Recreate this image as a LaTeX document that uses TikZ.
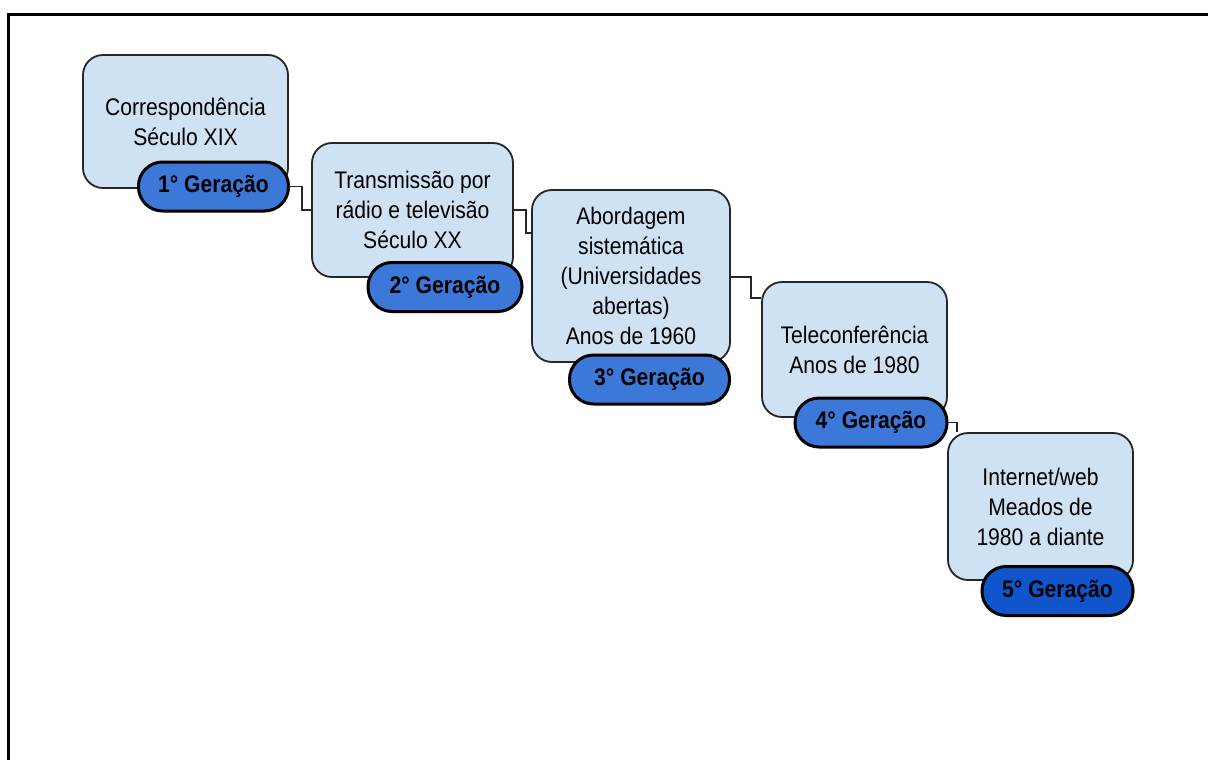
\documentclass[tikz,border=0pt]{standalone}
\usepackage{fontspec}
\setmainfont{Liberation Sans}[FakeStretch=0.88]
\usetikzlibrary{positioning}
\definecolor{eraFill}{RGB}{207,226,243}
\definecolor{genFill}{RGB}{60,120,216}
\definecolor{genDark}{RGB}{17,85,204}

\begin{document}
\begin{tikzpicture}[x=1pt,y=-1pt,
  era/.style={draw=black!85,line width=1.8pt,fill=eraFill,rounded corners=20pt,align=center,inner sep=0pt,font=\fontsize{24}{30}\selectfont},
  gen/.style={draw=black,line width=3pt,fill=genFill,rounded corners=24pt,minimum width=152pt,minimum height=49pt,inner sep=0pt,font=\fontsize{24}{28}\selectfont\bfseries},
  link/.style={draw=black!85,line width=1.8pt}]
  \useasboundingbox (0,0) rectangle (1208,760);

  % frame
  \draw[line width=3pt] (8.5,760) -- (8.5,15) -- (1208,15);

  \node[era,minimum width=205pt,minimum height=133pt] (b1) at (185.5,121.5) {Correspondência\\Século XIX};
  \node[era,minimum width=201pt,minimum height=134pt] (b2) at (412.5,210) {Transmissão por\\rádio e televisão\\Século XX};
  \node[era,minimum width=198pt,minimum height=172pt] (b3) at (631,276) {Abordagem\\sistemática\\(Universidades\\abertas)\\Anos de 1960};
  \node[era,minimum width=185pt,minimum height=135pt] (b4) at (854.5,349.5) {Teleconferência\\Anos de 1980};
  \node[era,minimum width=185pt,minimum height=147pt] (b5) at (1040.5,506.5) {Internet/web\\Meados de\\1980 a diante};

  \node[gen,minimum width=150pt] (p1) at (213.5,186.5) {1° Geração};
  \node[gen,minimum width=154pt] (p2) at (445,287) {2° Geração};
  \node[gen,minimum width=160pt] (p3) at (649.5,379.5) {3° Geração};
  \node[gen] (p4) at (871,422.5) {4° Geração};
  \node[gen,fill=genDark,minimum width=151pt] (p5) at (1057.5,591) {5° Geração};

  % steps between generations
  \draw[link] (p1.east) -- ++(12,0) |- (b2.west);
  \draw[link] (b2.east) -- ++(12,0) |- ([yshift=43pt]b3.west);
  \draw[link] ([yshift=-1pt]b3.east) -- ++(20,0) |- ([yshift=51.5pt]b4.west);
  \draw[link] (p4.east) -| ([xshift=10pt]b5.north west);
\end{tikzpicture}
\end{document}
